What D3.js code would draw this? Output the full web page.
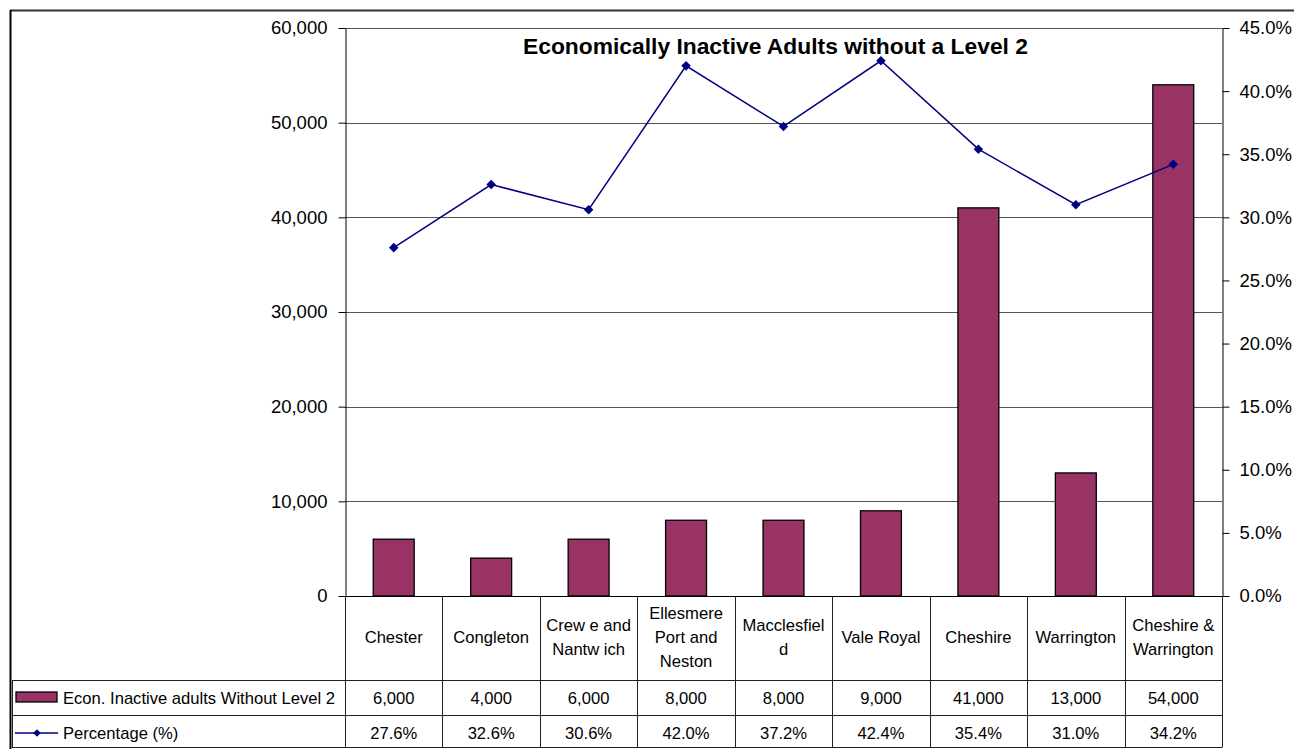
<!DOCTYPE html>
<html><head><meta charset="utf-8">
<script src="https://cdn.jsdelivr.net/npm/d3@7"></script>
<style>body{margin:0;background:#fff}svg{display:block;font-family:Arial,"Liberation Sans",sans-serif}</style>
</head><body><svg id="c" width="1294" height="749"></svg>
<script>
const categories = [["Chester"],["Congleton"],["Crew e and","Nantw ich"],["Ellesmere","Port and","Neston"],["Macclesfiel","d"],["Vale Royal"],["Cheshire"],["Warrington"],["Cheshire &","Warrington"]];
const counts = [6000,4000,6000,8000,8000,9000,41000,13000,54000];
const percents = [27.6,32.6,30.6,42.0,37.2,42.4,35.4,31.0,34.2];
const leftTicks = [0,10000,20000,30000,40000,50000,60000];
const rightTicks = [0,5,10,15,20,25,30,35,40,45];
const seriesNames = ["Econ. Inactive adults Without Level 2","Percentage (%)"];
const title = "Economically Inactive Adults without a Level 2";

const svg = d3.select("#c");
const L=345, R=1222, T=28, B=596;
const barColor="#993366", lineColor="#000080";
const fs = 16.6, afs = 18.5;

const x = d3.scaleBand().domain(d3.range(categories.length)).range([L,R]).paddingInner(0.58).paddingOuter(0.29);
const step = (R-L)/categories.length;
const yL = d3.scaleLinear().domain([0,60000]).range([B,T]);
const yR = d3.scaleLinear().domain([0,45]).range([B,T]);

// outer border
svg.append("line").attr("x1",10).attr("x2",1294).attr("y1",10.5).attr("y2",10.5).attr("stroke","#333").attr("stroke-width",1.8);
svg.append("line").attr("x1",10.5).attr("x2",10.5).attr("y1",10).attr("y2",749).attr("stroke","#000").attr("stroke-width",2);

// gridlines
svg.append("g").selectAll("line").data(leftTicks.filter(d=>d>0)).join("line")
  .attr("x1",L).attr("x2",R).attr("y1",d=>Math.round(yL(d))+0.5).attr("y2",d=>Math.round(yL(d))+0.5)
  .attr("stroke","#555").attr("stroke-width",1);

// left axis
const ga = svg.append("g").attr("transform",`translate(${L+0.5},0)`)
  .call(d3.axisLeft(yL).tickValues(leftTicks).tickFormat(d3.format(",")).tickSize(7).tickSizeOuter(0));
ga.select(".domain").attr("stroke","#000");
ga.selectAll("text").attr("font-size",afs).attr("font-family","Arial, Liberation Sans").attr("fill","#000").attr("dx","-8");
ga.selectAll("line").attr("stroke","#000");

// right axis
const gr = svg.append("g").attr("transform",`translate(${R+0.5},0)`)
  .call(d3.axisRight(yR).tickValues(rightTicks).tickFormat(d=>d.toFixed(1)+"%").tickSize(7).tickSizeOuter(0));
gr.select(".domain").attr("stroke","#000");
gr.selectAll("text").attr("font-size",afs).attr("font-family","Arial, Liberation Sans").attr("fill","#000").attr("dx","7");
gr.selectAll("line").attr("stroke","#000");

// bars
svg.append("g").selectAll("rect").data(counts).join("rect")
  .attr("x",(d,i)=>x(i)).attr("width",x.bandwidth())
  .attr("y",d=>yL(d)).attr("height",d=>B-yL(d))
  .attr("fill",barColor).attr("stroke","#000").attr("stroke-width",1.3);

// line
const cx = i => x(i)+x.bandwidth()/2;
svg.append("path").datum(percents)
  .attr("d",d3.line().x((d,i)=>cx(i)).y(d=>yR(d)))
  .attr("fill","none").attr("stroke",lineColor).attr("stroke-width",1.5);
const diamond = d3.symbol().type(d3.symbolDiamond2).size(58);
svg.append("g").selectAll("path").data(percents).join("path")
  .attr("d",diamond).attr("transform",(d,i)=>`translate(${cx(i)},${yR(d)})`)
  .attr("fill",lineColor);

// baseline
svg.append("line").attr("x1",L).attr("x2",R).attr("y1",B+0.5).attr("y2",B+0.5).attr("stroke","#000");

// title
svg.append("text").attr("x",775.5).attr("y",54).attr("text-anchor","middle")
  .attr("font-size",21.5).attr("font-weight","bold").attr("fill","#000")
  .attr("textLength",505).attr("lengthAdjust","spacingAndGlyphs").text(title);

// data table
const tb = svg.append("g");
const rowTop = 680, rowMid = 715, rowBot = 747.5;
tb.selectAll("line.v").data(d3.range(categories.length+1)).join("line")
  .attr("x1",i=>Math.round(L+i*step)+0.5).attr("x2",i=>Math.round(L+i*step)+0.5)
  .attr("y1",B).attr("y2",rowBot).attr("stroke","#222");
[rowTop,rowMid,rowBot].forEach(y=>{
  tb.append("line").attr("x1",12).attr("x2",R).attr("y1",Math.floor(y)+0.5).attr("y2",Math.floor(y)+0.5).attr("stroke","#222");
});
tb.append("line").attr("x1",12.5).attr("x2",12.5).attr("y1",rowTop).attr("y2",rowBot).attr("stroke","#222");

// category labels
categories.forEach((lines,i)=>{
  const lh=24, n=lines.length;
  const y0 = 637 - (n-1)*lh/2 + 6;
  const t = tb.append("text").attr("text-anchor","middle").attr("font-size",fs).attr("fill","#000");
  lines.forEach((s,j)=>t.append("tspan").attr("x",L+step*(i+0.5)).attr("y",y0+j*lh).text(s));
});
// values
tb.selectAll("text.cnt").data(counts).join("text").attr("class","cnt")
  .attr("x",(d,i)=>L+step*(i+0.5)).attr("y",704).attr("text-anchor","middle").attr("font-size",fs).text(d=>d3.format(",")(d));
tb.selectAll("text.pct").data(percents).join("text").attr("class","pct")
  .attr("x",(d,i)=>L+step*(i+0.5)).attr("y",739).attr("text-anchor","middle").attr("font-size",fs).text(d=>d.toFixed(1)+"%");

// legend keys
tb.append("rect").attr("x",16).attr("y",692).attr("width",41).attr("height",10).attr("fill",barColor).attr("stroke","#000").attr("stroke-width",1.3);
tb.append("text").attr("x",63).attr("y",704).attr("font-size",fs).text(seriesNames[0]);
tb.append("line").attr("x1",15).attr("x2",58).attr("y1",733).attr("y2",733).attr("stroke",lineColor).attr("stroke-width",1.3);
tb.append("path").attr("d",d3.symbol().type(d3.symbolDiamond2).size(36)).attr("transform","translate(37,733)").attr("fill",lineColor);
tb.append("text").attr("x",63).attr("y",739).attr("font-size",fs).text(seriesNames[1]);
</script></body></html>
